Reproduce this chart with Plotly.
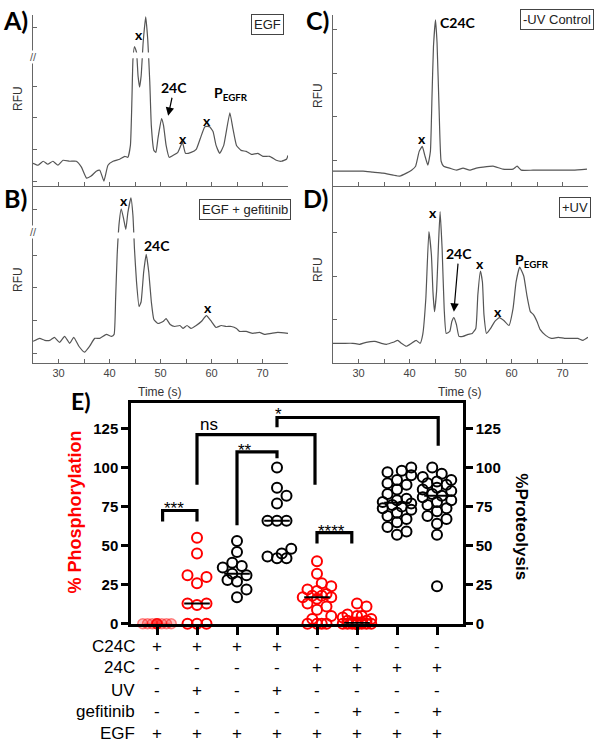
import plotly.graph_objects as go

# ---------------- Electropherogram traces (time in s, RFU arbitrary) ----------------
a_time = [25.0, 26.0, 27.0, 27.9, 28.9, 29.9, 30.9, 32.2, 33.5, 34.5,
          35.5, 36.4, 37.4, 38.1, 38.9, 39.7, 40.7, 42.0, 43.0, 43.6,
          44.1, 44.4, 44.6, 44.9, 45.3, 45.6, 45.9, 46.2, 46.6, 47.1,
          47.5, 47.9, 48.2, 48.7, 49.1, 49.5, 50.2, 50.6, 51.1, 51.7,
          52.5, 53.4, 54.3, 54.9, 56.0, 57.0, 57.8, 58.7, 59.6, 60.3,
          60.9, 61.6, 62.4, 63.6, 64.2, 64.9, 65.8, 66.8, 67.8, 69.1,
          70.1, 71.4, 72.7, 73.7, 74.7, 75.0]
a_rfu = [23, 21, 25, 22, 25, 21, 26, 25, 25, 19,
         8, 10, 15, 16, 5, 21, 25, 27, 30, 29,
         41, 88, 128, 141, 135, 111, 100, 111, 145, 171,
         148, 105, 61, 36, 34, 48, 68, 61, 41, 29,
         31, 34, 44, 33, 34, 37, 48, 60, 60, 55,
         41, 33, 41, 74, 58, 41, 36, 35, 32, 33,
         30, 30, 26, 25, 27, 31]

b_time = [25.0, 26.3, 27.3, 28.3, 29.2, 30.2, 31.2, 32.2, 33.0, 34.0,
          35.1, 36.1, 37.1, 38.1, 39.4, 40.4, 40.9, 41.2, 41.5, 41.9,
          42.3, 42.8, 43.2, 43.6, 44.2, 44.6, 44.9, 45.3, 45.8, 46.2,
          46.7, 47.2, 47.7, 48.2, 48.7, 49.5, 50.5, 51.1, 51.9, 52.8,
          53.8, 54.4, 55.2, 56.0, 57.0, 58.0, 59.0, 60.0, 60.9, 61.9,
          62.9, 63.9, 64.9, 65.5, 66.8, 68.1, 69.4, 70.4, 71.7, 73.0,
          75.0]
b_rfu = [22, 25, 23, 23, 26, 21, 27, 20, 26, 17,
         11, 17, 25, 25, 29, 27, 29, 65, 109, 142,
         156, 145, 135, 152, 167, 149, 115, 82, 57, 62,
         92, 110, 92, 62, 44, 40, 42, 45, 39, 37,
         38, 35, 38, 35, 38, 42, 48, 42, 36, 38,
         37, 37, 35, 32, 32, 30, 31, 29, 30, 31,
         30]

c_time = [25.0, 27.0, 28.9, 30.9, 32.8, 34.8, 36.8, 38.1, 39.4, 40.4,
          41.2, 41.9, 42.5, 43.0, 43.6, 44.1, 44.4, 44.7, 45.1, 45.4,
          45.8, 46.2, 46.7, 47.9, 49.2, 50.5, 51.8, 53.1, 54.4, 56.4,
          58.3, 60.3, 61.1, 61.9, 64.2, 66.8, 69.4, 72.1, 74.8]
c_rfu = [15, 15, 15, 15, 14, 13, 11, 10, 13, 16,
         20, 35, 40, 31, 21, 35, 88, 141, 168, 145,
         78, 25, 20, 18, 16, 18, 16, 18, 19, 20,
         17, 17, 20, 16, 16, 16, 16, 16, 17]

d_time = [25.0, 27.0, 28.9, 30.2, 31.5, 33.2, 34.5, 35.5, 36.8, 37.7,
          38.4, 39.4, 40.4, 41.3, 42.1, 42.6, 43.2, 43.8, 44.3, 44.6,
          44.9, 45.3, 45.7, 46.0, 46.4, 46.8, 47.2, 47.9, 48.3, 48.7,
          49.2, 49.7, 50.5, 51.5, 52.3, 53.0, 53.4, 53.9, 54.3, 54.6,
          55.1, 55.9, 56.7, 57.6, 58.5, 59.5, 60.3, 60.9, 61.6, 62.4,
          63.0, 63.7, 64.3, 65.0, 65.6, 66.7, 67.8, 69.2, 70.4, 71.8,
          73.0, 74.0, 75.0]
d_rfu = [20, 20, 20, 19, 21, 22, 20, 19, 21, 23,
         20, 17, 20, 23, 20, 29, 65, 133, 109, 72,
         52, 72, 122, 153, 115, 55, 30, 32, 42, 46,
         39, 27, 27, 29, 30, 35, 69, 93, 82, 49,
         30, 35, 42, 46, 43, 38, 55, 82, 97, 88,
         69, 52, 49, 42, 34, 28, 25, 26, 25, 25,
         25, 23, 26]

time_ticks = [25, 30, 35, 40, 45, 50, 55, 60, 65, 70, 75]

# ---------------- Panel E data ----------------
phos_c24c = [0, 0, 0, 0, 0, 0, 0, 0, 0, 0]
phos_c24c_uv = [55, 45, 31, 30, 26, 13, 13, 12, 0, 0, 0]
prot_c24c = [53, 46, 39, 37, 36, 32, 31, 28, 27, 22, 17]
prot_c24c_uv = [100, 87, 82, 77, 66, 66, 66, 48, 45, 43, 42, 42]
phos_24c = [40, 32, 26, 24, 22, 21, 19, 18, 18, 17, 17, 16, 13, 11, 9, 5, 3, 0, 0, 0, 0]
phos_24c_gef = [13, 11, 6, 5, 5, 4, 3, 2, 2, 1, 1, 1, 0, 0, 0, 0, 0, 0, 0, 0, 0, 0, 0, 0]
prot_24c = [100, 98, 97, 95, 92, 90, 89, 86, 83, 80, 79, 78, 77, 76, 75, 74, 73, 71, 69, 67, 65, 62, 59, 57]
prot_24c_gef = [100, 96, 94, 92, 91, 90, 89, 87, 86, 85, 83, 82, 81, 79, 78, 76, 74, 72, 69, 67, 64, 57, 24]

e_ticks = [0, 25, 50, 75, 100, 125]

cond_labels = ["C24C", "24C", "UV", "gefitinib", "EGF"]
cond_c24c = ["+", "+", "+", "+", "-", "-", "-", "-"]
cond_24c = ["-", "-", "-", "-", "+", "+", "+", "+"]
cond_uv = ["-", "+", "-", "+", "-", "-", "-", "-"]
cond_gef = ["-", "-", "-", "-", "-", "+", "-", "+"]
cond_egf = ["+", "+", "+", "+", "+", "+", "+", "+"]

# significance brackets: (x_left, y_left_end, x_right, y_right_end, y_top)
brackets = [
    (0.14, 65.5, 1.0, 65.5, 72.5),
    (1.0, 88.9, 3.95, 88.9, 121.0),
    (2.0, 63.0, 3.0, 106.0, 110.0),
    (4.0, 51.4, 4.87, 51.4, 58.3),
    (3.0, 125.8, 7.03, 114.0, 132.0),
]

# ---------------- helpers ----------------
W, H = 600, 750
ARIAL = "Liberation Sans"
BOLDF = "Lato"


def px(x):
    return x / W


def py(y):
    return 1 - y / H


def swarm(vals, diam=9.5, px_cat=40.0, px_unit=1.58, max_half=14.5):
    order = sorted(range(len(vals)), key=lambda i: vals[i])
    step = diam / 2
    cands = [0.0]
    k = 1
    while k * step <= max_half:
        cands += [k * step, -k * step]
        k += 1
    placed = []
    offs = [0.0] * len(vals)
    for i in order:
        yv = vals[i] * px_unit
        best, bestd = 0.0, -1
        for c in cands:
            d = min([((c - a) ** 2 + (yv - b) ** 2) ** 0.5 for a, b in placed], default=1e9)
            if d >= diam:
                best = c
                break
            if d > bestd:
                bestd, best = d, c
        placed.append((best, yv))
        offs[i] = best / px_cat
    return offs


def median(v):
    s = sorted(v)
    n = len(s)
    return s[n // 2] if n % 2 else (s[n // 2 - 1] + s[n // 2]) / 2


fig = go.Figure()

TRACE_COLOR = "#555555"
AX_COLOR = "#666666"
for xa, ya, t, r in [("x", "y", a_time, a_rfu), ("x2", "y2", b_time, b_rfu),
                     ("x3", "y3", c_time, c_rfu), ("x4", "y4", d_time, d_rfu)]:
    fig.add_trace(go.Scatter(x=t, y=r, xaxis=xa, yaxis=ya, mode="lines",
                             line=dict(color=TRACE_COLOR, width=1.2, shape="spline", smoothing=0.4),
                             hoverinfo="skip", showlegend=False))

# panel E markers
groups = [
    (phos_c24c, "y5", "pink"),
    (phos_c24c_uv, "y5", "red"),
    (prot_c24c, "y6", "black"),
    (prot_c24c_uv, "y6", "black"),
    (phos_24c, "y5", "red"),
    (phos_24c_gef, "y5", "red"),
    (prot_24c, "y6", "black"),
    (prot_24c_gef, "y6", "black"),
]
for i, (vals, ya, col) in enumerate(groups):
    offs = swarm(vals)
    xs = [i + o for o in offs]
    if col == "pink":
        marker = dict(symbol="circle", size=10, color="rgba(255,0,0,0.22)",
                      line=dict(color="rgba(255,0,0,0.45)", width=1.5))
    else:
        marker = dict(symbol="circle-open", size=10, color="#ff0000" if col == "red" else "black",
                      line=dict(width=2))
    fig.add_trace(go.Scatter(x=xs, y=vals, xaxis="x5", yaxis=ya, mode="markers",
                             marker=marker, cliponaxis=False, showlegend=False, hoverinfo="skip"))
    m = median(vals)
    fig.add_trace(go.Scatter(x=[i - 0.32, i + 0.32], y=[m, m], xaxis="x5", yaxis=ya, mode="lines",
                             line=dict(color="rgba(255,0,0,0.4)" if col == "pink" else "black", width=2),
                             cliponaxis=False, showlegend=False, hoverinfo="skip"))

# ---------------- axes ----------------
def tax(domain, labels):
    d = dict(domain=domain, range=[25, 75], showline=True, linecolor=AX_COLOR, linewidth=1,
             ticks="inside", ticklen=4, tickcolor=AX_COLOR, tickvals=time_ticks,
             showgrid=False, zeroline=False, fixedrange=True)
    if labels:
        d.update(ticktext=[str(v) if v % 10 == 0 and 25 < v < 75 else "" for v in time_ticks],
                 tickfont=dict(family=ARIAL, size=11, color="#444"), showticklabels=True)
    else:
        d.update(showticklabels=False)
    return d


def rax(domain, rng, tv):
    return dict(domain=domain, range=rng, showline=True, linecolor=AX_COLOR, linewidth=1,
                ticks="inside", ticklen=4, tickcolor=AX_COLOR, tickvals=tv, showticklabels=False,
                showgrid=False, zeroline=False, fixedrange=True)


LX = [px(33), px(288)]
RX = [px(333), px(588)]
TOP = [py(188), py(15)]
BOT = [py(367), py(188)]

bold15 = dict(family=ARIAL, size=15, color="black", weight="bold")
fig.update_layout(
    width=W, height=H, margin=dict(l=0, r=0, t=0, b=0),
    paper_bgcolor="white", plot_bgcolor="white", showlegend=False,
    xaxis=dict(tax(LX, False), anchor="y"),
    yaxis=dict(rax(TOP, [0, 173], [5, 37, 69, 101, 160]), anchor="x"),
    xaxis2=dict(tax(LX, True), anchor="y2"),
    yaxis2=dict(rax(BOT, [0, 179], [10, 43, 76, 109, 155]), anchor="x2"),
    xaxis3=dict(tax(RX, False), anchor="y3"),
    yaxis3=dict(rax(TOP, [0, 173], [26, 70, 114, 158]), anchor="x3"),
    xaxis4=dict(tax(RX, True), anchor="y4"),
    yaxis4=dict(rax(BOT, [0, 179], [44, 88, 132]), anchor="x4"),
    xaxis5=dict(domain=[px(131), px(463)], anchor="y5", range=[-0.65, 7.65], showline=True,
                linecolor="black", linewidth=2.5, mirror=True, ticks="outside", ticklen=8,
                tickwidth=2.5, tickcolor="black", tickvals=list(range(8)), showticklabels=False,
                showgrid=False, zeroline=False, fixedrange=True),
    yaxis5=dict(domain=[py(630.5), py(407)], anchor="x5", range=[0, 141.5], showline=True,
                linecolor="black", linewidth=2.5, ticks="outside", ticklen=7, tickwidth=2.5,
                tickcolor="black", tickvals=e_ticks, tickfont=bold15, showgrid=False,
                zeroline=False, fixedrange=True),
    yaxis6=dict(overlaying="y5", anchor="x5", side="right", range=[0, 141.5], showline=True,
                linecolor="black", linewidth=2.5, ticks="outside", ticklen=7, tickwidth=2.5,
                tickcolor="black", tickvals=e_ticks, tickfont=bold15, showgrid=False,
                zeroline=False, fixedrange=True),
)

shapes = []
# axis-break gaps in traces A and B
shapes.append(dict(type="rect", xref="x", yref="y", x0=43.6, x1=48.5, y0=129, y1=135,
                   fillcolor="white", line=dict(width=0), layer="above"))
shapes.append(dict(type="rect", xref="x2", yref="y2", x0=41.0, x1=45.6, y0=126, y1=132,
                   fillcolor="white", line=dict(width=0), layer="above"))
for (x0, y0, x1, y1, yt) in brackets:
    shapes.append(dict(type="path", xref="x5", yref="y5",
                       path=f"M {x0},{y0} L {x0},{yt} L {x1},{yt} L {x1},{y1}",
                       line=dict(color="black", width=3.2), layer="above"))
fig.update_layout(shapes=shapes)

ann = []


def A(**k):
    k.setdefault("xanchor", "center")
    k.setdefault("yanchor", "middle")
    ann.append(k)


lbl = dict(family=BOLDF, size=25, color="black", weight="bold")
A(text="A)", x=px(15), y=py(20), xref="paper", yref="paper", showarrow=False, font=lbl)
A(text="B)", x=px(15), y=py(200), xref="paper", yref="paper", showarrow=False, font=lbl)
A(text="C)", x=px(317), y=py(20), xref="paper", yref="paper", showarrow=False, font=lbl)
A(text="D)", x=px(316), y=py(200), xref="paper", yref="paper", showarrow=False, font=lbl)
A(text="E)", x=px(81), y=py(405), xref="paper", yref="paper", showarrow=False, font=dict(lbl, size=23))

rfu = dict(family=ARIAL, size=12, color="#333")
for (xx, yy) in [(18, 100), (18, 283), (318, 97), (318, 273)]:
    A(text="RFU", x=px(xx), y=py(yy), xref="paper", yref="paper", showarrow=False,
      textangle=-90, font=rfu)
for xx in (160, 460):
    A(text="Time (s)", x=px(xx), y=py(396), xref="paper", yref="paper", showarrow=False,
      font=dict(family=ARIAL, size=12, color="#333"))

# axis-break marks
for yy in (58, 235):
    A(text="//", x=px(33), y=py(yy), xref="paper", yref="paper", showarrow=False,
      font=dict(family=ARIAL, size=11, color="#555"), bgcolor="white", borderpad=0)

pk = dict(family=BOLDF, size=14, color="black", weight="bold")
# panel A
A(text="x", x=45.8, y=153, xref="x", yref="y", showarrow=False, font=pk)
A(text="24C", x=51.5, y=71, xref="x", yref="y", ax=6, ay=-28, showarrow=True, arrowhead=2,
  arrowsize=1.4, arrowwidth=1.2, arrowcolor="black", standoff=0, font=pk)
A(text="x", x=54.4, y=48, xref="x", yref="y", showarrow=False, font=pk)
A(text="x", x=59.1, y=66, xref="x", yref="y", showarrow=False, font=pk)
A(text="P<sub>EGFR</sub>", x=63.8, y=93, xref="x", yref="y", showarrow=False, font=pk)
# panel B
A(text="x", x=42.8, y=164, xref="x2", yref="y2", showarrow=False, font=pk)
A(text="24C", x=49.3, y=119, xref="x2", yref="y2", showarrow=False, font=pk)
A(text="x", x=59.3, y=56, xref="x2", yref="y2", showarrow=False, font=pk)
# panel C
A(text="C24C", x=45.6, y=165, xref="x3", yref="y3", showarrow=False, xanchor="left", font=pk)
A(text="x", x=42.5, y=48, xref="x3", yref="y3", showarrow=False, font=pk)
# panel D
A(text="x", x=44.6, y=152, xref="x4", yref="y4", showarrow=False, font=pk)
A(text="24C", x=48.7, y=52, xref="x4", yref="y4", ax=5, ay=-58, showarrow=True, arrowhead=2,
  arrowsize=1.4, arrowwidth=1.2, arrowcolor="black", standoff=0, font=pk)
A(text="x", x=53.8, y=101, xref="x4", yref="y4", showarrow=False, font=pk)
A(text="x", x=57.4, y=52, xref="x4", yref="y4", showarrow=False, font=pk)
A(text="P<sub>EGFR</sub>", x=64.1, y=104, xref="x4", yref="y4", showarrow=False, font=pk)

box = dict(showarrow=False, xref="paper", yref="paper", bordercolor="#444", borderwidth=1,
           borderpad=2, bgcolor="white", font=dict(family=ARIAL, size=13, color="#222"))
A(text="EGF", x=px(267), y=py(25), **box)
A(text="EGF + gefitinib", x=px(245), y=py(212), **box)
A(text="-UV Control", x=px(557), y=py(20), **box)
A(text="+UV", x=px(575), y=py(210), **box)

# panel E titles
A(text="% Phosphorylation", x=px(75), y=py(518), xref="paper", yref="paper", showarrow=False,
  textangle=-90, font=dict(family=ARIAL, size=18, color="#ff0000", weight="bold"))
A(text="%Proteolysis", x=px(522), y=py(532), xref="paper", yref="paper", showarrow=False,
  textangle=90, font=dict(family=ARIAL, size=17, color="black", weight="bold"))

# significance labels
sig = dict(family=ARIAL, size=17, color="black")
for txt, xx, yy in [("***", 174, 514), ("**", 245, 455), ("****", 331, 537), ("*", 278, 419), ("ns", 209, 429)]:
    A(text=txt, x=px(xx), y=py(yy), xref="paper", yref="paper", showarrow=False, font=sig)

# condition table
rows = [cond_c24c, cond_24c, cond_uv, cond_gef, cond_egf]
row_y = [653, 675, 698, 719, 741]
tf = dict(family=ARIAL, size=17, color="black")
for lab, vals, yy in zip(cond_labels, rows, row_y):
    A(text=lab, x=px(137), y=py(yy), xref="paper", yref="paper", xanchor="right",
      showarrow=False, font=tf)
    for i, v in enumerate(vals):
        A(text=v, x=i, y=py(yy), xref="x5", yref="paper", showarrow=False, font=tf)

fig.update_layout(annotations=ann)
fig.write_html("out.html", config={"displayModeBar": False},
               post_script="document.body.style.margin='0';document.body.style.overflow='hidden';")
